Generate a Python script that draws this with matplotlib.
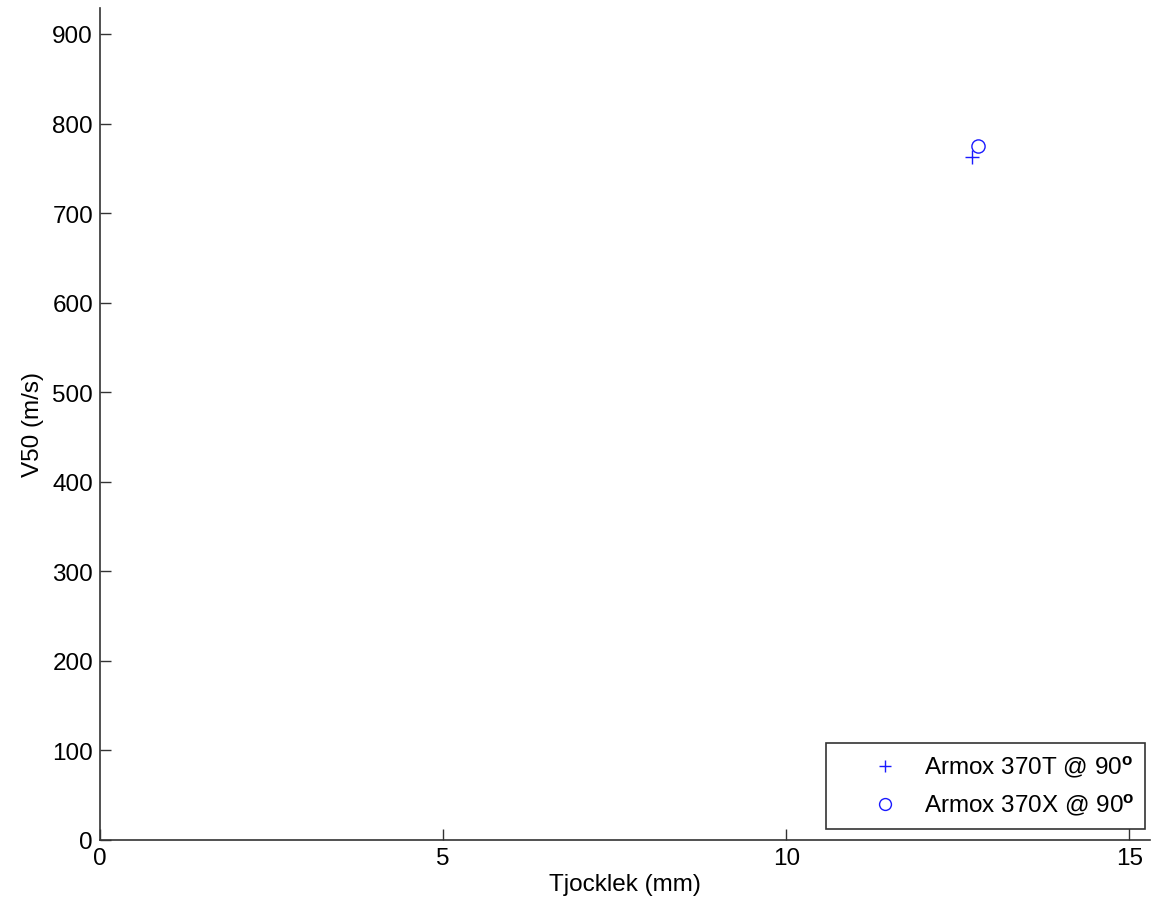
import matplotlib
matplotlib.use('Agg')
import matplotlib.pyplot as plt

plt.rcParams['font.family'] = ['Liberation Sans', 'DejaVu Sans']
plt.rcParams['mathtext.fontset'] = 'custom'
plt.rcParams['mathtext.rm'] = 'Liberation Sans'
plt.rcParams['mathtext.bf'] = 'Liberation Sans:bold'

# thickness (mm) and V50 (m/s)
thickness_370t = [12.7]
v50_370t = [763]
thickness_370x = [12.8]
v50_370x = [775]
labels = ['Armox 370T @ 90$^{\\mathbf{o}}$', 'Armox 370X @ 90$^{\\mathbf{o}}$']

fig = plt.figure(figsize=(11.51, 9.12), dpi=100)
ax = fig.add_axes([100 / 1151, 71 / 912, 1050 / 1151, 832 / 912])

ax.plot(thickness_370t, v50_370t, linestyle='none', marker='+', color='#1a1aff',
        markersize=10, markeredgewidth=1.0, label=labels[0])
ax.plot(thickness_370x, v50_370x, linestyle='none', marker='o', color='#1a1aff',
        markerfacecolor='none', markersize=9.5, markeredgewidth=1.0, label=labels[1])

ax.set_xlim(0, 15.3)
ax.set_ylim(0, 929)
ax.set_xticks([0, 5, 10, 15])
ax.set_yticks(range(0, 901, 100))
ax.spines['top'].set_visible(False)
ax.spines['right'].set_visible(False)
for s in ('left', 'bottom'):
    ax.spines[s].set_color('#333333')
    ax.spines[s].set_linewidth(1.2)
ax.tick_params(direction='in', length=8, width=1, labelsize=17.5, pad=5, colors='#333333',
               labelcolor='black')

ax.set_xlabel('Tjocklek (mm)', fontsize=17.5, labelpad=3)
ax.set_ylabel('V50 (m/s)', fontsize=17.5, labelpad=6)

# marker sits off to the left of the text like in the original legend
leg = ax.legend(loc='lower right', fontsize=17.5, frameon=True, fancybox=False,
                edgecolor='black', borderpad=0.45, handletextpad=-0.35, labelspacing=0.5,
                handlelength=3.9, bbox_to_anchor=(0.9952, 0.0132), borderaxespad=0,
                markerscale=0.9)
leg.get_frame().set_linewidth(1.2)

fig.savefig('out.png', dpi=100)
